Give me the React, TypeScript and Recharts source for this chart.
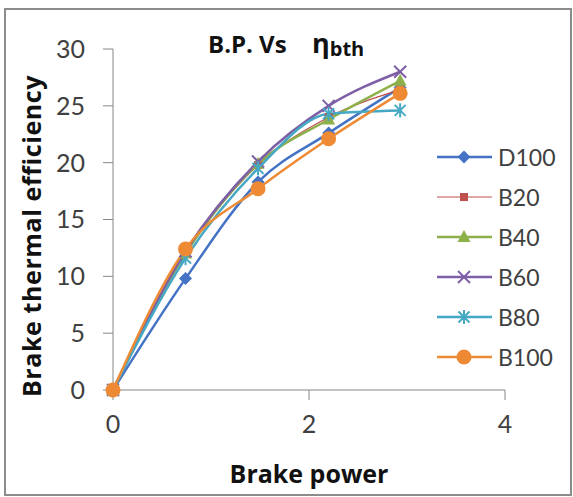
import React from "react";
import { LineChart, Line, XAxis, YAxis } from "recharts";

// brake power (kW) at each load step
const brakePower = [0, 0.74, 1.48, 2.2, 2.93];

// brake thermal efficiency (%) per fuel blend
const d100 = [0, 9.8, 18.3, 22.6, 26.6];
const b20 = [0, 12.0, 19.8, 24.0, 26.4];
const b40 = [0, 12.0, 19.9, 23.8, 27.2];
const b60 = [0, 12.2, 20.1, 25.0, 28.0];
const b80 = [0, 11.6, 19.5, 24.3, 24.6];
const b100 = [0, 12.4, 17.7, 22.1, 26.1];

const xTicks = [0, 2, 4];
const yTicks = [0, 5, 10, 15, 20, 25, 30];

const seriesNames = ["D100", "B20", "B40", "B60", "B80", "B100"];
const seriesValues = [d100, b20, b40, b60, b80, b100];

const styles: Record<string, { color: string; shape: string; width: number }> = {
  D100: { color: "#4472C4", shape: "diamond", width: 2.5 },
  B20: { color: "#C0504D", shape: "square", width: 1.2 },
  B40: { color: "#8DB04B", shape: "triangle", width: 2.5 },
  B60: { color: "#7E5FA6", shape: "x", width: 2.5 },
  B80: { color: "#45A8C4", shape: "star", width: 2.5 },
  B100: { color: "#EE8A34", shape: "circle", width: 2.5 },
};

const data = brakePower.map((bp, i) => {
  const row: Record<string, number> = { bp };
  seriesNames.forEach((name, s) => {
    row[name] = seriesValues[s][i];
  });
  return row;
});

const FONT = "Lato, 'Open Sans', sans-serif";
const BOLD_FONT = "'Open Sans', Lato, sans-serif";
const AXIS = "#868686";
const TEXT = "#404040";

function Marker({ shape, cx, cy, color }: { shape: string; cx: number; cy: number; color: string }) {
  switch (shape) {
    case "diamond":
      return <path d={`M${cx},${cy - 6.5}L${cx + 6.5},${cy}L${cx},${cy + 6.5}L${cx - 6.5},${cy}Z`} fill={color} />;
    case "square":
      return <rect x={cx - 4} y={cy - 4} width={8} height={8} fill={color} />;
    case "triangle":
      return <path d={`M${cx},${cy - 7}L${cx + 6.5},${cy + 5}L${cx - 6.5},${cy + 5}Z`} fill={color} />;
    case "x":
      return (
        <g stroke={color} strokeWidth={2}>
          <line x1={cx - 6} y1={cy - 6} x2={cx + 6} y2={cy + 6} />
          <line x1={cx - 6} y1={cy + 6} x2={cx + 6} y2={cy - 6} />
        </g>
      );
    case "star":
      return (
        <g stroke={color} strokeWidth={2}>
          <line x1={cx - 5.5} y1={cy - 5.5} x2={cx + 5.5} y2={cy + 5.5} />
          <line x1={cx - 5.5} y1={cy + 5.5} x2={cx + 5.5} y2={cy - 5.5} />
          <line x1={cx} y1={cy - 7} x2={cx} y2={cy + 7} />
        </g>
      );
    default:
      return <circle cx={cx} cy={cy} r={7.5} fill={color} />;
  }
}

const LegendBox = () => (
  <div style={{ position: "absolute", left: 436, top: 137, fontFamily: FONT }}>
    {seriesNames.map((name) => {
      const st = styles[name];
      return (
        <div key={name} style={{ height: 40, display: "flex", alignItems: "center" }}>
          <svg width={58} height={20}>
            <line x1={1} y1={10} x2={56} y2={10} stroke={st.color} strokeWidth={st.width} />
            <Marker shape={st.shape} cx={28} cy={10} color={st.color} />
          </svg>
          <span style={{ fontSize: 23, color: TEXT, marginLeft: 4 }}>{name}</span>
        </div>
      );
    })}
  </div>
);

export default function App() {
  return (
    <div style={{ position: "absolute", left: 0, top: 0, width: 573, height: 497, background: "#fff" }}>
      <div
        style={{
          position: "absolute",
          left: 4,
          top: 8,
          width: 568,
          height: 488,
          boxSizing: "border-box",
          border: "2px solid #8c8c8c",
        }}
      />
      <LineChart
        width={573}
        height={497}
        data={data}
        margin={{ top: 49, right: 68, bottom: 47, left: 0 }}
        style={{ position: "absolute", left: 0, top: 0 }}
      >
        <XAxis
          dataKey="bp"
          type="number"
          domain={[0, 4]}
          ticks={xTicks}
          height={60}
          stroke={AXIS}
          tickSize={10}
          tickMargin={15}
          tick={{ fill: TEXT, fontSize: 25, fontFamily: FONT }}
        />
        <YAxis
          type="number"
          domain={[0, 30]}
          ticks={yTicks}
          width={113}
          stroke={AXIS}
          tickSize={10}
          tickMargin={18}
          tick={{ fill: TEXT, fontSize: 25, fontFamily: FONT }}
        />
        {seriesNames.map((name) => {
          const st = styles[name];
          return (
            <Line
              key={name}
              dataKey={name}
              type="monotone"
              stroke={st.color}
              strokeWidth={st.width}
              isAnimationActive={false}
              dot={(p: any) => (
                <Marker key={`${name}-${p.index}`} shape={st.shape} cx={p.cx} cy={p.cy} color={st.color} />
              )}
              activeDot={false}
            />
          );
        })}
        <text x={208} y={53} fontFamily={BOLD_FONT} fontWeight="bold" fontSize={24} fill="#111">
          <tspan>B.P. Vs</tspan>
          <tspan x={312} fontSize={27}>η</tspan>
          <tspan fontSize={20} dy={3}>bth</tspan>
        </text>
        <text x={309} y={483} textAnchor="middle" fontFamily={BOLD_FONT} fontWeight="bold" fontSize={25} fill="#111">
          Brake power
        </text>
        <text
          x={41}
          y={236}
          textAnchor="middle"
          transform="rotate(-90 41 236)"
          fontFamily={BOLD_FONT}
          fontWeight="bold"
          fontSize={25}
          letterSpacing={0.6}
          fill="#111"
        >
          Brake thermal efficiency
        </text>
      </LineChart>
      <LegendBox />
    </div>
  );
}
